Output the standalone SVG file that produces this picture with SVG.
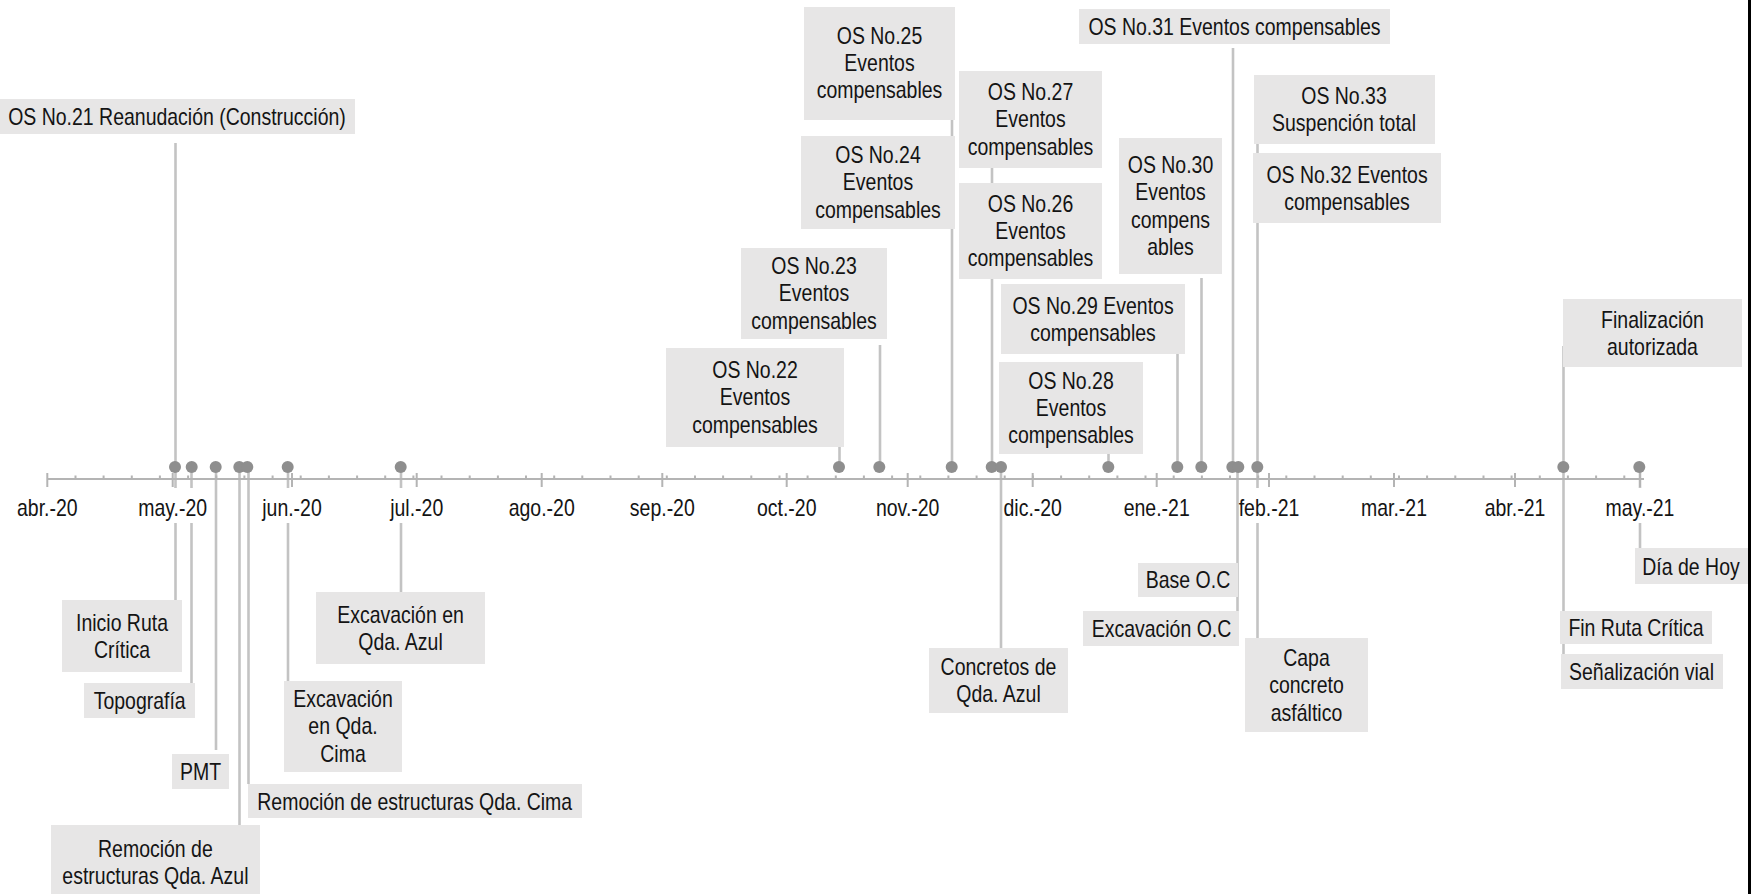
<svg xmlns="http://www.w3.org/2000/svg" width="1764" height="894" viewBox="0 0 1764 894">
<style>
.bg{fill:#ffffff}
.box{fill:#e7e6e6}
.t{font-family:"Liberation Sans",Arial,sans-serif;font-size:23px;fill:#141414;text-anchor:middle}
.conn{stroke:#c3c3c3;stroke-width:2.6;fill:none}
.axis{stroke:#b4b4b4;stroke-width:2;fill:none}
.dot{fill:#8e8e8e}
.lblbg{fill:#ffffff}
</style>
<rect class="bg" x="0" y="0" width="1764" height="894"/>

<g id="connectors">
  <path class="conn" d="M175.5 143V600"/>
  <path class="conn" d="M191.5 467V683"/>
  <path class="conn" d="M216 467V750"/>
  <path class="conn" d="M239.5 467V825"/>
  <path class="conn" d="M248.5 467V784"/>
  <path class="conn" d="M288 467V681"/>
  <path class="conn" d="M401 467V592"/>
  <path class="conn" d="M839.5 447V467"/>
  <path class="conn" d="M880 345V467"/>
  <path class="conn" d="M952 120V467"/>
  <path class="conn" d="M992 168V467"/>
  <path class="conn" d="M1001 467V648"/>
  <path class="conn" d="M1108.5 454V467"/>
  <path class="conn" d="M1177.5 354V467"/>
  <path class="conn" d="M1201.5 278V467"/>
  <path class="conn" d="M1233 48V467"/>
  <path class="conn" d="M1237.5 467V611"/>
  <path class="conn" d="M1257.5 144V638"/>
  <path class="conn" d="M1563.5 346V654"/>
  <path class="conn" d="M1640 467V548"/>
</g>

<g id="axis">
  <path class="axis" d="M47 479H1644"/>
  <path class="axis" d="M47.3 473V487M172.7 473V487M292 473V487M416.7 473V487M541.7 473V487M662.3 473V487M786.7 473V487M907.7 473V487M1032.7 473V487M1156.7 473V487M1269 473V487M1394 473V487M1515 473V487M1640 473V487"/>
  <path class="axis" d="M75.5 475.5V479M103.6 475.5V479M131.8 475.5V479M159.9 475.5V479M188.1 475.5V479M216.3 475.5V479M244.4 475.5V479M272.6 475.5V479M300.7 475.5V479M328.9 475.5V479M357.1 475.5V479M385.2 475.5V479M413.4 475.5V479M441.5 475.5V479M469.7 475.5V479M497.9 475.5V479M526 475.5V479M554.2 475.5V479M582.3 475.5V479M610.5 475.5V479M638.7 475.5V479M666.8 475.5V479M695 475.5V479M723.1 475.5V479M751.3 475.5V479M779.5 475.5V479M807.6 475.5V479M835.8 475.5V479M863.9 475.5V479M892.1 475.5V479M920.3 475.5V479M948.4 475.5V479M976.6 475.5V479M1004.7 475.5V479M1032.9 475.5V479M1061.1 475.5V479M1089.2 475.5V479M1117.4 475.5V479M1145.5 475.5V479M1173.7 475.5V479M1201.9 475.5V479M1230 475.5V479M1258.2 475.5V479M1286.3 475.5V479M1314.5 475.5V479M1342.7 475.5V479M1370.8 475.5V479M1399 475.5V479M1427.1 475.5V479M1455.3 475.5V479M1483.5 475.5V479M1511.6 475.5V479M1539.8 475.5V479M1567.9 475.5V479M1596.1 475.5V479M1624.3 475.5V479"/>
</g>

<g id="month-labels">
  <rect class="lblbg" x="16.5" y="488" width="61.7" height="35"/><text class="t" transform="translate(47.3 516) scale(.847 1)">abr.-20</text>
  <rect class="lblbg" x="137.6" y="488" width="70.3" height="35"/><text class="t" transform="translate(172.7 516) scale(.847 1)">may.-20</text>
  <rect class="lblbg" x="262.3" y="488" width="59.5" height="35"/><text class="t" transform="translate(292 516) scale(.847 1)">jun.-20</text>
  <rect class="lblbg" x="390.2" y="488" width="53" height="35"/><text class="t" transform="translate(416.7 516) scale(.847 1)">jul.-20</text>
  <rect class="lblbg" x="508.7" y="488" width="66" height="35"/><text class="t" transform="translate(541.7 516) scale(.847 1)">ago.-20</text>
  <rect class="lblbg" x="629.9" y="488" width="64.9" height="35"/><text class="t" transform="translate(662.3 516) scale(.847 1)">sep.-20</text>
  <rect class="lblbg" x="757" y="488" width="59.5" height="35"/><text class="t" transform="translate(786.7 516) scale(.847 1)">oct.-20</text>
  <rect class="lblbg" x="875.3" y="488" width="64.9" height="35"/><text class="t" transform="translate(907.7 516) scale(.847 1)">nov.-20</text>
  <rect class="lblbg" x="1003.5" y="488" width="58.4" height="35"/><text class="t" transform="translate(1032.7 516) scale(.847 1)">dic.-20</text>
  <rect class="lblbg" x="1123.7" y="488" width="66" height="35"/><text class="t" transform="translate(1156.7 516) scale(.847 1)">ene.-21</text>
  <rect class="lblbg" x="1239" y="488" width="60" height="35"/><text class="t" transform="translate(1269 516) scale(.847 1)">feb.-21</text>
  <rect class="lblbg" x="1360.5" y="488" width="67.1" height="35"/><text class="t" transform="translate(1394 516) scale(.847 1)">mar.-21</text>
  <rect class="lblbg" x="1484.2" y="488" width="61.7" height="35"/><text class="t" transform="translate(1515 516) scale(.847 1)">abr.-21</text>
  <rect class="lblbg" x="1604.9" y="488" width="70.3" height="35"/><text class="t" transform="translate(1640 516) scale(.847 1)">may.-21</text>
</g>

<g id="dots">
  <circle class="dot" cx="175" cy="467" r="6"/>
  <circle class="dot" cx="191.7" cy="467" r="6"/>
  <circle class="dot" cx="215.7" cy="467" r="6"/>
  <circle class="dot" cx="239.3" cy="467" r="6"/>
  <circle class="dot" cx="247.3" cy="467" r="6"/>
  <circle class="dot" cx="287.7" cy="467" r="6"/>
  <circle class="dot" cx="400.7" cy="467" r="6"/>
  <circle class="dot" cx="839" cy="467" r="6"/>
  <circle class="dot" cx="879.3" cy="467" r="6"/>
  <circle class="dot" cx="951.7" cy="467" r="6"/>
  <circle class="dot" cx="991.7" cy="467" r="6"/>
  <circle class="dot" cx="1001" cy="467" r="6"/>
  <circle class="dot" cx="1108.3" cy="467" r="6"/>
  <circle class="dot" cx="1177.3" cy="467" r="6"/>
  <circle class="dot" cx="1201.3" cy="467" r="6"/>
  <circle class="dot" cx="1232.3" cy="467" r="6"/>
  <circle class="dot" cx="1238.3" cy="467" r="6"/>
  <circle class="dot" cx="1257.3" cy="467" r="6"/>
  <circle class="dot" cx="1563.3" cy="467" r="6"/>
  <circle class="dot" cx="1639.3" cy="467" r="6"/>
</g>

<g id="os21"><rect class="box" x="-1" y="99" width="356" height="35"/><text class="t" transform="translate(177 124.5) scale(.847 1)">OS No.21 Reanudación (Construcción)</text></g>
<g id="os25"><rect class="box" x="804" y="7" width="151" height="113"/><text class="t" transform="translate(879.5 43.5) scale(.847 1)"><tspan x="0">OS No.25</tspan><tspan x="0" dy="27.5">Eventos</tspan><tspan x="0" dy="27.5">compensables</tspan></text></g>
<g id="os24"><rect class="box" x="801" y="136" width="154" height="93"/><text class="t" transform="translate(878 163) scale(.847 1)"><tspan x="0">OS No.24</tspan><tspan x="0" dy="27.5">Eventos</tspan><tspan x="0" dy="27.5">compensables</tspan></text></g>
<g id="os27"><rect class="box" x="959" y="71" width="143" height="97"/><text class="t" transform="translate(1030.5 100) scale(.847 1)"><tspan x="0">OS No.27</tspan><tspan x="0" dy="27.5">Eventos</tspan><tspan x="0" dy="27.5">compensables</tspan></text></g>
<g id="os26"><rect class="box" x="959" y="183" width="143" height="96"/><text class="t" transform="translate(1030.5 211.5) scale(.847 1)"><tspan x="0">OS No.26</tspan><tspan x="0" dy="27.5">Eventos</tspan><tspan x="0" dy="27.5">compensables</tspan></text></g>
<g id="os31"><rect class="box" x="1079" y="9" width="311" height="35"/><text class="t" transform="translate(1234.5 34.5) scale(.847 1)">OS No.31 Eventos compensables</text></g>
<g id="os33"><rect class="box" x="1254" y="75" width="181" height="69"/><text class="t" transform="translate(1344 104) scale(.847 1)"><tspan x="0">OS No.33</tspan><tspan x="0" dy="27.5">Suspención total</tspan></text></g>
<g id="os32"><rect class="box" x="1253" y="153" width="188" height="70"/><text class="t" transform="translate(1347 182.5) scale(.847 1)"><tspan x="0">OS No.32 Eventos</tspan><tspan x="0" dy="27.5">compensables</tspan></text></g>
<g id="os30"><rect class="box" x="1119" y="138" width="103" height="136"/><text class="t" transform="translate(1170.5 173) scale(.847 1)"><tspan x="0">OS No.30</tspan><tspan x="0" dy="27.5">Eventos</tspan><tspan x="0" dy="27.5">compens</tspan><tspan x="0" dy="27.5">ables</tspan></text></g>
<g id="os29"><rect class="box" x="1001" y="284" width="184" height="70"/><text class="t" transform="translate(1093 313.5) scale(.847 1)"><tspan x="0">OS No.29 Eventos</tspan><tspan x="0" dy="27.5">compensables</tspan></text></g>
<g id="os28"><rect class="box" x="999" y="362" width="144" height="92"/><text class="t" transform="translate(1071 388.5) scale(.847 1)"><tspan x="0">OS No.28</tspan><tspan x="0" dy="27.5">Eventos</tspan><tspan x="0" dy="27.5">compensables</tspan></text></g>
<g id="os23"><rect class="box" x="741" y="248" width="146" height="91"/><text class="t" transform="translate(814 274) scale(.847 1)"><tspan x="0">OS No.23</tspan><tspan x="0" dy="27.5">Eventos</tspan><tspan x="0" dy="27.5">compensables</tspan></text></g>
<g id="os22"><rect class="box" x="666" y="348" width="178" height="99"/><text class="t" transform="translate(755 378) scale(.847 1)"><tspan x="0">OS No.22</tspan><tspan x="0" dy="27.5">Eventos</tspan><tspan x="0" dy="27.5">compensables</tspan></text></g>
<g id="finalizacion"><rect class="box" x="1563" y="299" width="179" height="68"/><text class="t" transform="translate(1652.5 327.5) scale(.847 1)"><tspan x="0">Finalización</tspan><tspan x="0" dy="27.5">autorizada</tspan></text></g>

<g id="inicio"><rect class="box" x="62" y="600" width="120" height="72"/><text class="t" transform="translate(122 630.5) scale(.847 1)"><tspan x="0">Inicio Ruta</tspan><tspan x="0" dy="27.5">Crítica</tspan></text></g>
<g id="topografia"><rect class="box" x="84" y="683" width="111" height="35"/><text class="t" transform="translate(139.7 708.5) scale(.847 1)">Topografía</text></g>
<g id="pmt"><rect class="box" x="172" y="754" width="57" height="35"/><text class="t" transform="translate(200.5 779.5) scale(.847 1)">PMT</text></g>
<g id="remocion-azul"><rect class="box" x="51" y="825" width="209" height="72"/><text class="t" transform="translate(155.4 857) scale(.847 1)"><tspan x="0">Remoción de</tspan><tspan x="0" dy="27.5">estructuras Qda. Azul</tspan></text></g>
<g id="remocion-cima"><rect class="box" x="248" y="784" width="334" height="34"/><text class="t" transform="translate(414.7 809.5) scale(.847 1)">Remoción de estructuras Qda. Cima</text></g>
<g id="excavacion-cima"><rect class="box" x="284" y="681" width="118" height="91"/><text class="t" transform="translate(343 707) scale(.847 1)"><tspan x="0">Excavación</tspan><tspan x="0" dy="27.5">en Qda.</tspan><tspan x="0" dy="27.5">Cima</tspan></text></g>
<g id="excavacion-azul"><rect class="box" x="316" y="592" width="169" height="72"/><text class="t" transform="translate(400.5 622.5) scale(.847 1)"><tspan x="0">Excavación en</tspan><tspan x="0" dy="27.5">Qda. Azul</tspan></text></g>
<g id="concretos"><rect class="box" x="929" y="648" width="139" height="65"/><text class="t" transform="translate(998.5 675) scale(.847 1)"><tspan x="0">Concretos de</tspan><tspan x="0" dy="27.5">Qda. Azul</tspan></text></g>
<g id="base-oc"><rect class="box" x="1138" y="563" width="100" height="34"/><text class="t" transform="translate(1188 588) scale(.847 1)">Base O.C</text></g>
<g id="excavacion-oc"><rect class="box" x="1083" y="611" width="156" height="35"/><text class="t" transform="translate(1161.5 636.5) scale(.847 1)">Excavación O.C</text></g>
<g id="capa"><rect class="box" x="1245" y="638" width="123" height="94"/><text class="t" transform="translate(1306.5 666) scale(.847 1)"><tspan x="0">Capa</tspan><tspan x="0" dy="27.5">concreto</tspan><tspan x="0" dy="27.5">asfáltico</tspan></text></g>
<g id="dia-de-hoy"><rect class="box" x="1635" y="548" width="113" height="36"/><text class="t" transform="translate(1691 574.5) scale(.847 1)">Día de Hoy</text></g>
<g id="fin-ruta"><rect class="box" x="1560" y="611" width="152" height="33"/><text class="t" transform="translate(1636 635.5) scale(.847 1)">Fin Ruta Crítica</text></g>
<g id="senalizacion"><rect class="box" x="1561" y="654" width="162" height="35"/><text class="t" transform="translate(1641.5 680) scale(.847 1)">Señalización vial</text></g>

<path d="M1749.5 0V894" stroke="#000000" stroke-width="3"/>
</svg>
